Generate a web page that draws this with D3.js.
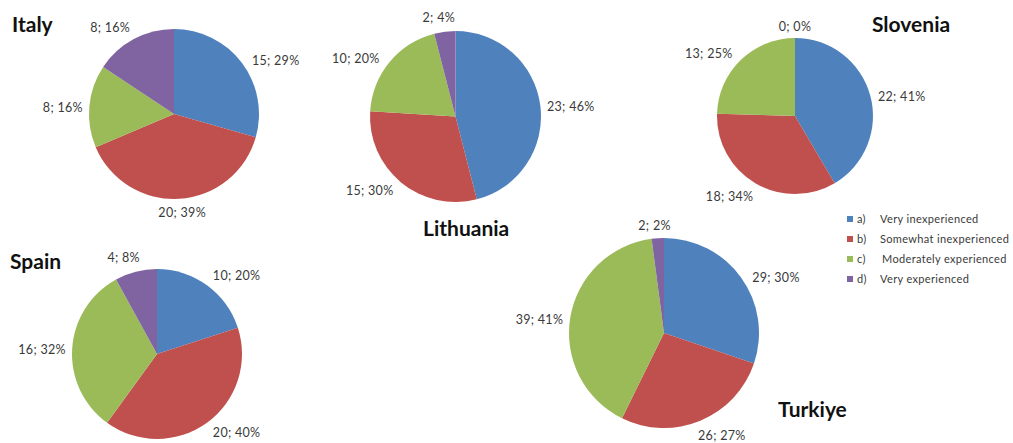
<!DOCTYPE html>
<html lang="en">
<head>
<meta charset="utf-8">
<style>
  body { margin: 0; background: white; }
  svg { font-family: 'Lato', sans-serif; background: white; }
  .title { font-weight: bold; font-size: 21px; fill: #111; }
  .label { font-size: 12.5px; letter-spacing: 0.3px; fill: #3a3a3a; }
  .legend text { font-size: 11px; letter-spacing: 0.35px; fill: #3a3a3a; }
</style>
</head>
<body>
<svg width="1013" height="443"></svg>
<script src="https://d3js.org/d3.v7.min.js"></script>
<script>
// data
const countries = ["Italy", "Lithuania", "Slovenia", "Spain", "Turkiye"]
const categoryKeys = ["a)", "b)", "c)", "d)"]
const categories = ["Very inexperienced", "Somewhat inexperienced", "Moderately experienced", "Very experienced"]

const italyCounts = [15, 20, 8, 8]
const italyPct = [29, 39, 16, 16]
const lithuaniaCounts = [23, 15, 10, 2]
const lithuaniaPct = [46, 30, 20, 4]
const sloveniaCounts = [22, 18, 13, 0]
const sloveniaPct = [41, 34, 25, 0]
const spainCounts = [10, 20, 16, 4]
const spainPct = [20, 40, 32, 8]
const turkiyeCounts = [29, 26, 39, 2]
const turkiyePct = [30, 27, 41, 2]

const counts = [italyCounts, lithuaniaCounts, sloveniaCounts, spainCounts, turkiyeCounts]
const pcts = [italyPct, lithuaniaPct, sloveniaPct, spainPct, turkiyePct]

// layout of each little pie
const layout = {
  Italy:     { cx: 174, cy: 114, r: 85, tx: 12, ty: 32 },
  Lithuania: { cx: 455.5, cy: 116.5, r: 85.5, tx: 423, ty: 236 },
  Slovenia:  { cx: 795, cy: 116, r: 78, tx: 872, ty: 32 },
  Spain:     { cx: 157, cy: 354, r: 85, tx: 10, ty: 269 },
  Turkiye:   { cx: 664, cy: 333, r: 95, tx: 778, ty: 417 }
}

const color = d3.scaleOrdinal()
  .domain(categories)
  .range(["#4F81BD", "#C0504D", "#9BBB59", "#8064A2"])

const svg = d3.select("svg")
const pie = d3.pie().sort(null)

countries.forEach(function(country, ci) {
  const L = layout[country]
  const arcs = pie(counts[ci]).map(function(d, i) {
    d.cat = categories[i]
    d.label = counts[ci][i] + "; " + pcts[ci][i] + "%"
    return d
  })
  const arc = d3.arc().innerRadius(0).outerRadius(L.r)

  const g = svg.append("g")
    .attr("class", "pie")
    .attr("transform", "translate(" + L.cx + "," + L.cy + ")")

  g.selectAll("path")
    .data(arcs)
    .enter()
    .append("path")
    .attr("d", arc)
    .attr("fill", function(d) { return color(d.cat) })

  // labels outside the end of each slice, pushed a bit toward horizontal like excel does
  g.selectAll("text.label")
    .data(arcs)
    .enter()
    .append("text")
    .attr("class", "label")
    .attr("text-anchor", "middle")
    .attr("dominant-baseline", "central")
    .text(function(d) { return d.label })
    .each(function(d) {
      const w = this.getComputedTextLength()
      let a = (d.startAngle + d.endAngle) / 2
      a = a + 0.17 * Math.sin(2 * a)
      const dist = L.r + 6 + (w / 2) * Math.abs(Math.sin(a)) + 6 * Math.abs(Math.cos(a))
      d3.select(this)
        .attr("x", Math.sin(a) * dist)
        .attr("y", -Math.cos(a) * dist)
    })

  svg.append("text")
    .attr("class", "title")
    .attr("x", L.tx)
    .attr("y", L.ty)
    .text(country)
})

// legend
const legend = svg.append("g")
  .attr("class", "legend")
  .attr("transform", "translate(847,219)")

const items = legend.selectAll("g")
  .data(categories)
  .enter()
  .append("g")
  .attr("transform", function(d, i) { return "translate(0," + (i * 20) + ")" })

items.append("rect")
  .attr("x", 0)
  .attr("y", -3)
  .attr("width", 6)
  .attr("height", 6)
  .attr("fill", function(d) { return color(d) })

items.append("text")
  .attr("x", 10)
  .attr("dy", "0.35em")
  .text(function(d, i) { return categoryKeys[i] })

items.append("text")
  .attr("x", function(d, i) { return i == 2 ? 35 : 33 })
  .attr("dy", "0.35em")
  .text(function(d) { return d })
</script>
</body>
</html>
